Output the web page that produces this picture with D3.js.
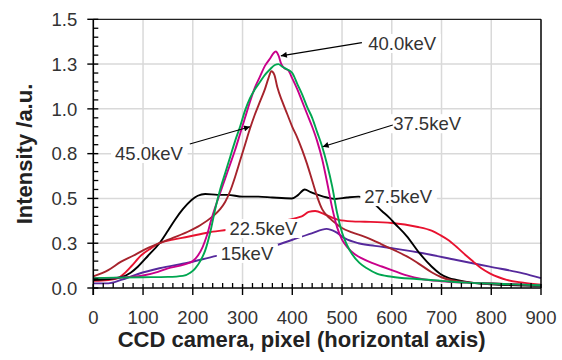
<!DOCTYPE html>
<html><head><meta charset="utf-8">
<script src="https://cdn.jsdelivr.net/npm/d3@7"></script>
<style>html,body{margin:0;padding:0;background:#fff;} svg{display:block;}</style>
</head><body>
<svg id="chart" width="562" height="360"></svg>
<script>
// ---- data ----
const xTicks = [0,100,200,300,400,500,600,700,800,900];
const xTickLabels = ["0","100","200","300","400","500","600","700","800","900"];
const yTicks = [0,0.25,0.5,0.75,1.0,1.25,1.5];
const yTickLabels = ["0.0","0.3","0.5","0.8","1.0","1.3","1.5"];

const seriesNames = ["15keV","22.5keV","27.5keV","45.0keV","40.0keV","37.5keV"];

const x15 = [0,30,56,90,133,190,248,310,369,399,439,469,486,506,533,566,606,663,730,797,864,900];
const y15 = [0.026,0.026,0.045,0.078,0.11,0.141,0.179,0.21,0.24,0.268,0.305,0.33,0.315,0.277,0.25,0.235,0.22,0.194,0.156,0.119,0.082,0.055];

const x22 = [0,30,50,60,76,97,115,133,160,190,231,270,340,419,433,446,466,493,520,546,600,650,680,697,715,730,750,764,780,797,815,831,864,900];
const y22 = [0.04,0.045,0.055,0.075,0.12,0.184,0.22,0.25,0.27,0.286,0.31,0.325,0.36,0.40,0.425,0.43,0.41,0.38,0.372,0.37,0.363,0.342,0.32,0.296,0.265,0.23,0.18,0.147,0.11,0.082,0.06,0.045,0.03,0.018];

const x27 = [0,30,56,75,90,110,133,150,164,180,197,210,225,250,270,300,332,360,399,412,425,437,452,470,486,510,533,550,565,580,596,606,630,657,680,697,715,730,760,800,850,900];
const y27 = [0.045,0.05,0.06,0.085,0.12,0.18,0.25,0.32,0.38,0.44,0.49,0.515,0.525,0.52,0.52,0.51,0.51,0.505,0.5,0.52,0.55,0.535,0.52,0.505,0.497,0.505,0.51,0.5,0.47,0.43,0.39,0.36,0.29,0.19,0.12,0.08,0.055,0.045,0.03,0.02,0.015,0.012];

const x45 = [0,30,56,80,100,133,160,190,215,240,255,265,275,285,295,305,315,325,335,345,352,358,364,370,380,390,400,410,420,430,440,450,460,475,490,500,520,546,575,606,637,660,680,700,720,760,800,850,900];
const y45 = [0.065,0.1,0.147,0.18,0.21,0.25,0.28,0.314,0.35,0.40,0.44,0.48,0.54,0.62,0.71,0.8,0.89,0.97,1.04,1.11,1.17,1.21,1.19,1.12,1.04,0.97,0.9,0.84,0.77,0.69,0.6,0.51,0.44,0.39,0.355,0.335,0.31,0.286,0.25,0.21,0.166,0.125,0.088,0.06,0.043,0.03,0.025,0.02,0.017];

const x40 = [0,50,100,130,150,175,190,200,210,220,228,237,245,255,265,275,285,295,305,315,325,335,345,355,362,367,372,378,385,392,400,410,420,430,440,450,460,470,480,490,500,510,525,540,560,580,600,630,660,700,750,800,850,900];
const y40 = [0.055,0.058,0.07,0.09,0.11,0.125,0.138,0.15,0.18,0.23,0.29,0.38,0.45,0.53,0.61,0.69,0.77,0.86,0.95,1.04,1.12,1.18,1.24,1.28,1.31,1.32,1.3,1.25,1.225,1.215,1.17,1.11,1.04,0.97,0.9,0.82,0.72,0.59,0.45,0.34,0.27,0.23,0.19,0.165,0.14,0.12,0.1,0.07,0.05,0.038,0.03,0.025,0.02,0.017];

const x37 = [0,50,100,150,180,195,205,215,225,235,245,255,265,275,285,295,305,315,325,335,345,355,365,372,380,390,400,410,420,430,440,450,460,470,480,490,500,510,520,535,550,570,600,650,700,750,800,850,900];
const y37 = [0.055,0.058,0.06,0.062,0.068,0.085,0.11,0.15,0.21,0.31,0.44,0.55,0.64,0.73,0.82,0.9,0.99,1.06,1.11,1.15,1.19,1.22,1.245,1.25,1.235,1.22,1.2,1.14,1.08,1.01,0.95,0.87,0.79,0.69,0.57,0.42,0.31,0.24,0.19,0.14,0.11,0.08,0.063,0.05,0.04,0.03,0.025,0.02,0.015];

const seriesX = [x15,x22,x27,x45,x40,x37];
const seriesY = [y15,y22,y27,y45,y40,y37];
const seriesColors = ["#56299c","#e8122f","#000000","#a6232c","#c8008a","#00a650"];

// ---- layout ----
const svg = d3.select("#chart");
const L = 93.3, R = 541, T = 19.3, B = 288;
const x = d3.scaleLinear().domain([0,900]).range([L,R]);
const y = d3.scaleLinear().domain([0,1.5]).range([B,T]);
const FONT = "'Liberation Sans', Arial, Helvetica, sans-serif";

// gridlines
const grid = svg.append("g");
grid.selectAll("line.v").data(xTicks.slice(1,-1)).enter().append("line")
  .attr("x1",d=>x(d)).attr("x2",d=>x(d)).attr("y1",T).attr("y2",B)
  .attr("stroke","#d9d9d9").attr("stroke-width",1.5);
grid.selectAll("line.h").data(yTicks.slice(1,-1)).enter().append("line")
  .attr("y1",d=>y(d)).attr("y2",d=>y(d)).attr("x1",L).attr("x2",R)
  .attr("stroke","#d9d9d9").attr("stroke-width",1.5);

// series lines
const line = d3.line().x(d=>x(d[0])).y(d=>y(d[1])).curve(d3.curveMonotoneX);
seriesNames.forEach((n,i)=>{
  const pts = seriesX[i].map((v,j)=>[v, seriesY[i][j]]);
  svg.append("path").datum(pts).attr("d",line)
    .attr("fill","none").attr("stroke",seriesColors[i])
    .attr("stroke-width",1.9).attr("stroke-linejoin","round");
});

// labels (white boxes) with optional arrows
const labelPos = {
  "40.0keV": {cx:621, cy:1.366, arrow:[540,1.37,377,1.296]},
  "37.5keV": {cx:671, cy:0.918, arrow:[602,0.91,461,0.789]},
  "45.0keV": {cx:112, cy:0.752, arrow:[194,0.804,315,0.90]},
  "27.5keV": {cx:613, cy:0.511},
  "22.5keV": {cx:342, cy:0.333},
  "15keV":   {cx:309, cy:0.194}
};
svg.append("defs").append("marker").attr("id","ah")
  .attr("viewBox","0 0 10 10").attr("refX",10).attr("refY",5)
  .attr("markerWidth",8).attr("markerHeight",6).attr("markerUnits","userSpaceOnUse")
  .attr("orient","auto")
  .append("path").attr("d","M0,0 L10,5 L0,10 z").attr("fill","#000");

const labG = svg.append("g");
seriesNames.forEach(n=>{
  const p = labelPos[n];
  const g = labG.append("g");
  const t = g.append("text").attr("x",x(p.cx)).attr("y",y(p.cy)).attr("dy","0.36em")
    .attr("text-anchor","middle").attr("font-family",FONT).attr("font-size",18.5)
    .attr("fill","#333").text(n);
  const bb = t.node().getBBox();
  g.insert("rect","text").attr("x",bb.x-4).attr("y",bb.y+1).attr("width",bb.width+8).attr("height",bb.height-2)
    .attr("fill","#fff");
  if (p.arrow) {
    labG.append("line").attr("x1",x(p.arrow[0])).attr("y1",y(p.arrow[1]))
      .attr("x2",x(p.arrow[2])).attr("y2",y(p.arrow[3]))
      .attr("stroke","#000").attr("stroke-width",1.1).attr("marker-end","url(#ah)");
  }
});

// frame
svg.append("line").attr("x1",L).attr("x2",R).attr("y1",T).attr("y2",T).attr("stroke","#222").attr("stroke-width",1.3);
svg.append("line").attr("x1",R).attr("x2",R).attr("y1",T).attr("y2",B).attr("stroke","#000").attr("stroke-width",1.5);

// axes
const ax = svg.append("g").attr("stroke","#000");
ax.append("line").attr("x1",L).attr("x2",R).attr("y1",B).attr("y2",B).attr("stroke-width",1.6);
ax.append("line").attr("x1",L).attr("x2",L).attr("y1",T).attr("y2",B+7).attr("stroke-width",1.6);
ax.selectAll("line.xm").data(d3.range(0,901,20).filter(v=>v%100!==0)).enter().append("line")
  .attr("x1",d=>x(d)).attr("x2",d=>x(d)).attr("y1",B).attr("y2",B-5).attr("stroke-width",1.3);
ax.selectAll("line.xM").data(xTicks).enter().append("line")
  .attr("x1",d=>x(d)).attr("x2",d=>x(d)).attr("y1",B-4).attr("y2",B+7).attr("stroke-width",1.4);
ax.selectAll("line.ym").data(d3.range(0,31).map(i=>i*0.05).filter(v=>Math.abs(v*4-Math.round(v*4))>1e-6)).enter().append("line")
  .attr("y1",d=>y(d)).attr("y2",d=>y(d)).attr("x1",L).attr("x2",L+5).attr("stroke-width",1.3);
ax.selectAll("line.yM").data(yTicks).enter().append("line")
  .attr("y1",d=>y(d)).attr("y2",d=>y(d)).attr("x1",L-6).attr("x2",L+5).attr("stroke-width",1.4);

// tick labels
svg.selectAll("text.xt").data(xTicks).enter().append("text")
  .attr("x",d=>x(d)).attr("y",B+36).attr("text-anchor","middle")
  .attr("font-family",FONT).attr("font-size",18.5).attr("fill","#333")
  .text((d,i)=>xTickLabels[i]);
svg.selectAll("text.yt").data(yTicks).enter().append("text")
  .attr("x",L-16).attr("y",d=>y(d)).attr("dy","0.36em").attr("text-anchor","end")
  .attr("font-family",FONT).attr("font-size",18.5).attr("fill","#333")
  .text((d,i)=>yTickLabels[i]);

// axis titles
svg.append("text").attr("x",301.7).attr("y",347).attr("text-anchor","middle")
  .attr("font-family",FONT).attr("font-weight","bold").attr("font-size",22).attr("fill","#222")
  .text("CCD camera, pixel (horizontal axis)");
svg.append("text").attr("transform","translate(32,154) rotate(-90)").attr("text-anchor","middle")
  .attr("font-family",FONT).attr("font-weight","bold").attr("font-size",22).attr("fill","#222")
  .text("Intensity /a.u.");
</script>
</body></html>
